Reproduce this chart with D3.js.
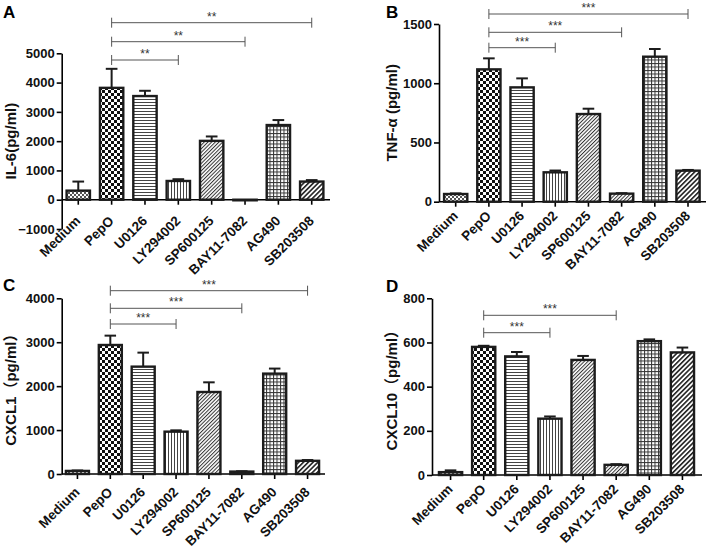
<!DOCTYPE html>
<html><head><meta charset="utf-8">
<script src="https://cdn.jsdelivr.net/npm/d3@7/dist/d3.min.js"></script>
<style>
html,body{margin:0;padding:0;background:#fff;}
svg{display:block;font-family:"Liberation Sans",Arial,"Noto Sans CJK SC",sans-serif;}
</style></head>
<body><svg id="chart" width="708" height="549"></svg>
<script>
// ---- data ----
const categories = ["Medium","PepO","U0126","LY294002","SP600125","BAY11-7082","AG490","SB203508"];
const il6Values    = [310, 3820, 3540, 640, 2010, -20, 2550, 620];
const il6Errors    = [310, 650, 180, 60, 150, 10, 170, 50];
const tnfValues    = [65, 1117, 965, 248, 740, 68, 1224, 262];
const tnfErrors    = [5, 93, 76, 15, 45, 4, 65, 6];
const cxcl1Values  = [70, 2937, 2444, 964, 1867, 55, 2285, 300];
const cxcl1Errors  = [10, 213, 319, 30, 220, 8, 115, 18];
const cxcl10Values = [13, 580, 537, 255, 521, 46, 606, 555];
const cxcl10Errors = [8, 5, 20, 10, 18, 3, 8, 22];
const il6Ticks    = [-1000, 0, 1000, 2000, 3000, 4000, 5000];
const tnfTicks    = [0, 500, 1000, 1500];
const cxcl1Ticks  = [0, 1000, 2000, 3000, 4000];
const cxcl10Ticks = [0, 200, 400, 600, 800];
// significance comparisons: [from category, to category, label]
const il6Sig    = [["PepO","LY294002","**"],["PepO","BAY11-7082","**"],["PepO","SB203508","**"]];
const tnfSig    = [["PepO","LY294002","***"],["PepO","BAY11-7082","***"],["PepO","SB203508","***"]];
const cxcl1Sig  = [["PepO","LY294002","***"],["PepO","BAY11-7082","***"],["PepO","SB203508","***"]];
const cxcl10Sig = [["PepO","LY294002","***"],["PepO","BAY11-7082","***"]];

// ---- layout ----
const panels = [
  {letter:"A", lx:3, ly:18, values:il6Values, errors:il6Errors, ticks:il6Ticks, domain:[-1000,5000],
   yRange:[229,53.3], xRange:[61.6,328.4], axisX:61.7, axisEnd:330, title:"IL-6(pg/ml)", titleX:11,
   sig:il6Sig, sigY:[60,41.7,22.7], labDy:22},
  {letter:"B", lx:386, ly:18, values:tnfValues, errors:tnfErrors, ticks:tnfTicks, domain:[0,1500],
   yRange:[201.7,24], xRange:[439.1,704.6], axisX:439, axisEnd:706, title:"TNF-α (pg/ml)", titleX:392,
   sig:tnfSig, sigY:[47.7,32.3,14], labDy:15},
  {letter:"C", lx:3, ly:291, values:cxcl1Values, errors:cxcl1Errors, ticks:cxcl1Ticks, domain:[0,4000],
   yRange:[474,298.3], xRange:[61,324], axisX:61.7, axisEnd:325, title:"CXCL1（pg/ml）", titleX:11,
   sig:cxcl1Sig, sigY:[324,308.3,290.7], labDy:19},
  {letter:"D", lx:386, ly:292, values:cxcl10Values, errors:cxcl10Errors, ticks:cxcl10Ticks, domain:[0,800],
   yRange:[475,298.3], xRange:[434,699], axisX:432, axisEnd:702, title:"CXCL10（pg/ml）", titleX:392,
   sig:cxcl10Sig, sigY:[332.7,315.3], labDy:15}
];

const svg = d3.select("#chart");
const defs = svg.append("defs");

function pat(id, w, h, transform){
  const p = defs.append("pattern").attr("id", id).attr("patternUnits","userSpaceOnUse")
    .attr("width", w).attr("height", h);
  if (transform) p.attr("patternTransform", transform);
  p.append("rect").attr("width", w).attr("height", h).attr("fill","#fff");
  return p;
}
let p;
p = pat("p0", 4, 4); p.append("rect").attr("width",2).attr("height",2).attr("fill","#555");
p.append("rect").attr("x",2).attr("y",2).attr("width",2).attr("height",2).attr("fill","#555");
p = pat("p1", 6, 6); p.append("rect").attr("width",3).attr("height",3).attr("fill","#111");
p.append("rect").attr("x",3).attr("y",3).attr("width",3).attr("height",3).attr("fill","#111");
p = pat("p2", 6, 3); p.append("rect").attr("y",0).attr("width",6).attr("height",1).attr("fill","#444");
p = pat("p3", 3, 6); p.append("rect").attr("x",0).attr("width",1).attr("height",6).attr("fill","#444");
p = pat("p4", 2.6, 6, "rotate(45)"); p.append("rect").attr("width",1).attr("height",6).attr("fill","#333");
p = pat("p5", 2.6, 6, "rotate(45)"); p.append("rect").attr("width",1).attr("height",6).attr("fill","#333");
p = pat("p6", 3.5, 3.5); p.append("rect").attr("width",1).attr("height",3.5).attr("fill","#333");
p.append("rect").attr("width",3.5).attr("height",1).attr("fill","#333");
p = pat("p7", 3.4, 6, "rotate(45)"); p.append("rect").attr("width",1.6).attr("height",6).attr("fill","#222");

const dark = "#1c1c1c";

panels.forEach(cfg => {
  const g = svg.append("g");
  const x = d3.scaleBand().domain(categories).range(cfg.xRange).paddingInner(0.3).paddingOuter(0.15);
  const y = d3.scaleLinear().domain(cfg.domain).range(cfg.yRange);
  const y0 = y(0);

  g.append("text").attr("x", cfg.lx).attr("y", cfg.ly).attr("font-size", 17).attr("font-weight","bold")
    .attr("fill","#000").text(cfg.letter);

  const yAxis = g.append("g").attr("transform",`translate(${cfg.axisX},0)`)
    .call(d3.axisLeft(y).tickValues(cfg.ticks).tickSize(5).tickSizeOuter(0).tickPadding(2).tickFormat(d3.format("d")));
  yAxis.select(".domain").attr("stroke","#000").attr("stroke-width",1.6);
  yAxis.selectAll(".tick line").attr("stroke","#000").attr("stroke-width",1.6);
  yAxis.selectAll(".tick text").attr("font-size",13).attr("font-weight","bold").attr("fill","#111")
    .attr("font-family",'"Liberation Sans",Arial,sans-serif');

  const xAxis = g.append("g").attr("transform",`translate(0,${y0})`)
    .call(d3.axisBottom(x).tickSize(5).tickSizeOuter(0));
  xAxis.select(".domain").remove();
  xAxis.selectAll(".tick line").attr("stroke","#000").attr("stroke-width",1.6);
  xAxis.selectAll(".tick text").remove();
  g.append("line").attr("x1", cfg.axisX).attr("x2", cfg.axisEnd).attr("y1", y0).attr("y2", y0)
    .attr("stroke","#000").attr("stroke-width",1.6);

  g.selectAll(".xl").data(categories).join("text")
    .attr("transform", d => `translate(${x(d)+x.bandwidth()/2+3},${y0+cfg.labDy}) rotate(-45)`)
    .attr("text-anchor","end").attr("font-size",13.5).attr("font-weight","bold").attr("fill","#111")
    .text(d => d);

  g.append("text").attr("transform",`translate(${cfg.titleX},${(cfg.yRange[0]+cfg.yRange[1])/2}) rotate(-90)`)
    .attr("text-anchor","middle").attr("dy","0.35em").attr("font-size",15).attr("font-weight","bold")
    .attr("fill","#111").text(cfg.title);

  const data = categories.map((c,i)=>({c, i, v:cfg.values[i], e:cfg.errors[i]}));
  const bw = x.bandwidth();

  const eb = g.selectAll(".eb").data(data).join("g");
  eb.append("line").attr("x1", d => x(d.c)+bw/2).attr("x2", d => x(d.c)+bw/2)
    .attr("y1", d => y(d.v)).attr("y2", d => y(d.v + d.e)).attr("stroke",dark).attr("stroke-width",2);
  eb.append("line").attr("x1", d => x(d.c)+bw/4).attr("x2", d => x(d.c)+3*bw/4)
    .attr("y1", d => y(d.v + d.e)).attr("y2", d => y(d.v + d.e)).attr("stroke",dark).attr("stroke-width",2);

  g.selectAll(".bar").data(data).join("rect")
    .attr("x", d => x(d.c)).attr("width", bw)
    .attr("y", d => y(Math.max(0,d.v))).attr("height", d => Math.max(0.5, Math.abs(y(d.v)-y0)))
    .attr("fill", d => `url(#p${d.i})`).attr("stroke",dark).attr("stroke-width",2.4);

  cfg.sig.forEach((s,k) => {
    const x1 = x(s[0])+bw/2, x2 = x(s[1])+bw/2, yy = cfg.sigY[k];
    const col = "#555";
    g.append("line").attr("x1",x1).attr("x2",x2).attr("y1",yy).attr("y2",yy).attr("stroke",col).attr("stroke-width",1);
    [x1,x2].forEach(xx => g.append("line").attr("x1",xx).attr("x2",xx).attr("y1",yy-5).attr("y2",yy+5)
      .attr("stroke",col).attr("stroke-width",1));
    g.append("text").attr("x",(x1+x2)/2).attr("y",yy-2).attr("text-anchor","middle")
      .attr("font-size",12).attr("fill","#333").text(s[2]);
  });
});
</script></body></html>
